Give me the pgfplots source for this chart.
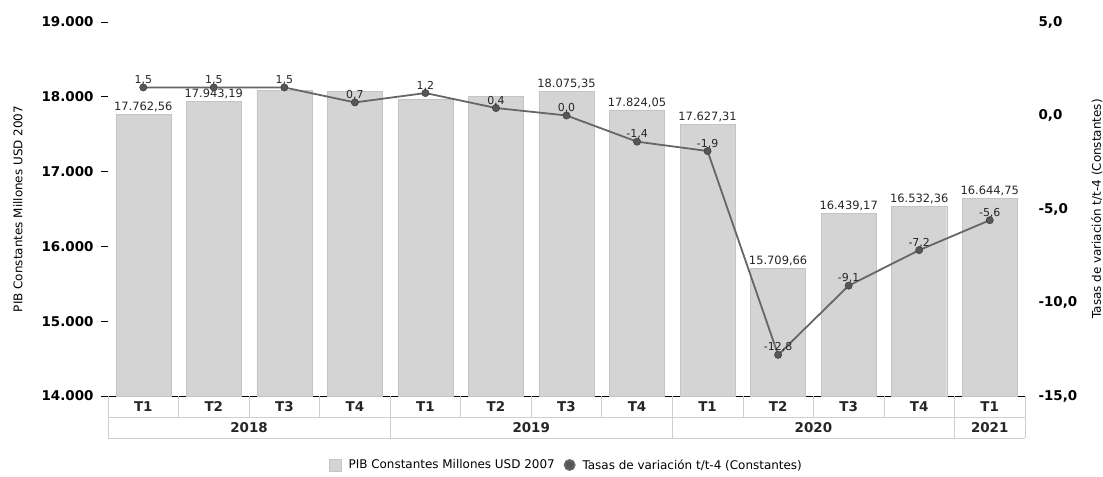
\documentclass[border=0pt]{standalone}
\usepackage{pgfplots}
\pgfplotsset{compat=1.18}
\usepackage{pgfplotstable}
\usepackage{fontspec}
\setmainfont{DejaVu Sans}
\definecolor{barfill}{HTML}{D4D4D4}
\definecolor{bardraw}{HTML}{C4C4C4}
\definecolor{linecol}{HTML}{666666}
\definecolor{markcol}{HTML}{575757}
\definecolor{boxcol}{HTML}{CFCFCF}

\pgfplotstableread{
x y lab
0 17762.56 17.762,56
1 17943.19 17.943,19
2 18083 {}
3 18075 {}
4 17971 {}
5 18008 {}
6 18075.35 18.075,35
7 17824.05 17.824,05
8 17627.31 17.627,31
9 15709.66 15.709,66
10 16439.17 16.439,17
11 16532.36 16.532,36
12 16644.75 16.644,75
}\bars

\pgfplotstableread{
x y lab
0 1.5 1,5
1 1.5 1,5
2 1.5 1,5
3 0.7 0,7
4 1.2 1,2
5 0.4 0,4
6 0.0 0,0
7 -1.4 -1,4
8 -1.9 -1,9
9 -12.8 -12,8
10 -9.1 -9,1
11 -7.2 -7,2
12 -5.6 -5,6
}\rates

\begin{document}
\begin{tikzpicture}
\begin{axis}[
  name=main,
  scale only axis,
  width=917bp, height=374bp,
  xmin=-0.5, xmax=12.5,
  ymin=14000, ymax=19000,
  clip=false,
  axis y line*=left,
  axis x line*=bottom,
  y axis line style={draw=none},
  x axis line style={black, line width=0.8pt},
  ytick={14000,15000,16000,17000,18000,19000},
  scaled y ticks=false,
  tick align=outside,
  yticklabel style={font=\fontsize{13.5}{15}\selectfont\bfseries, xshift=-4bp},
  /pgf/number format/assume math mode=true,
  /pgf/number format/.cd, 1000 sep={.}, fixed, precision=0,
  /pgfplots/.cd,
  major tick length=7bp,
  ytick style={black, line width=0.7pt},
  xtick={0,...,12},
  xticklabels={T1,T2,T3,T4,T1,T2,T3,T4,T1,T2,T3,T4,T1},
  xtick style={draw=none},
  xticklabel style={font=\fontsize{13.5}{15}\selectfont\bfseries, text=black!85, yshift=5bp},
]
\addplot[ybar, bar width=0.78, fill=barfill, draw=bardraw,
  nodes near coords, point meta=explicit symbolic,
  every node near coord/.append style={font=\fontsize{11.5}{13}\selectfont, text=black!85, yshift=-1bp}]
  table[x=x, y=y, meta=lab]{\bars};
% category boxes
\draw[boxcol, line width=0.7pt] (-0.5,13719) -- (12.5,13719);
\draw[boxcol, line width=0.7pt] (-0.5,13438) -- (12.5,13438);
\draw[boxcol, line width=0.7pt] (-0.5,14000) -- (-0.5,13438);
\draw[boxcol, line width=0.7pt] (12.5,14000) -- (12.5,13438);
\pgfplotsinvokeforeach{0.5,1.5,2.5,4.5,5.5,6.5,8.5,9.5,10.5}{
  \draw[boxcol, line width=0.7pt] (#1,14000) -- (#1,13719);
}
\pgfplotsinvokeforeach{3.5,7.5,11.5}{
  \draw[boxcol, line width=0.7pt] (#1,14000) -- (#1,13438);
}
\node[font=\fontsize{13.5}{15}\selectfont\bfseries, text=black!85] at (1.5,13578) {2018};
\node[font=\fontsize{13.5}{15}\selectfont\bfseries, text=black!85] at (5.5,13578) {2019};
\node[font=\fontsize{13.5}{15}\selectfont\bfseries, text=black!85] at (9.5,13578) {2020};
\node[font=\fontsize{13.5}{15}\selectfont\bfseries, text=black!85] at (12,13578) {2021};
\node[rotate=90, font=\fontsize{12}{14}\selectfont] at (-1.776,16500) {PIB Constantes Millones USD 2007};
\node[rotate=90, font=\fontsize{12}{14}\selectfont] at (13.52,16500) {Tasas de variación t/t-4 (Constantes)};
\end{axis}
\begin{axis}[
  scale only axis,
  width=917bp, height=374bp,
  xmin=-0.5, xmax=12.5,
  ymin=-15, ymax=5,
  clip=false,
  axis x line=none,
  axis y line*=right,
  y axis line style={draw=none},
  ytick={-15,-10,-5,0,5},
  major tick length=0pt,
  yticklabel style={font=\fontsize{13.5}{15}\selectfont\bfseries, xshift=10bp},
  /pgf/number format/assume math mode=true,
  /pgf/number format/.cd, use comma, fixed, fixed zerofill, precision=1,
  /pgfplots/.cd,
  legend style={at={(0.5,-0.1845)}, anchor=center, draw=none, fill=none,
    font=\fontsize{12}{14}\selectfont, legend columns=2,
    /tikz/every even column/.append style={column sep=7bp},
    /tikz/every odd column/.append style={column sep=5bp}},
  legend cell align=left,
]
\addlegendimage{legend image code/.code={\draw[fill=barfill, draw=bardraw] (0bp,-6bp) rectangle (12bp,6bp);}}
\addlegendentry{PIB Constantes Millones USD 2007}
\addplot[linecol, line width=1.8pt, mark=*, mark size=3.6bp,
  mark options={fill=markcol, draw=black!75, line width=0.6pt},
  nodes near coords, point meta=explicit symbolic,
  every node near coord/.append style={font=\fontsize{11}{13}\selectfont, text=black!85, yshift=-1bp},
  legend image code/.code={\draw[fill=markcol, draw=black!60] (6bp,0bp) circle (5bp);}]
  table[x=x, y=y, meta=lab]{\rates};
\addlegendentry{Tasas de variación t/t-4 (Constantes)}
\end{axis}
\pgfresetboundingbox
\path[use as bounding box] ([xshift=-108bp,yshift=-81bp]main.south west) rectangle ([xshift=78bp,yshift=22bp]main.north east);
\end{tikzpicture}
\end{document}
